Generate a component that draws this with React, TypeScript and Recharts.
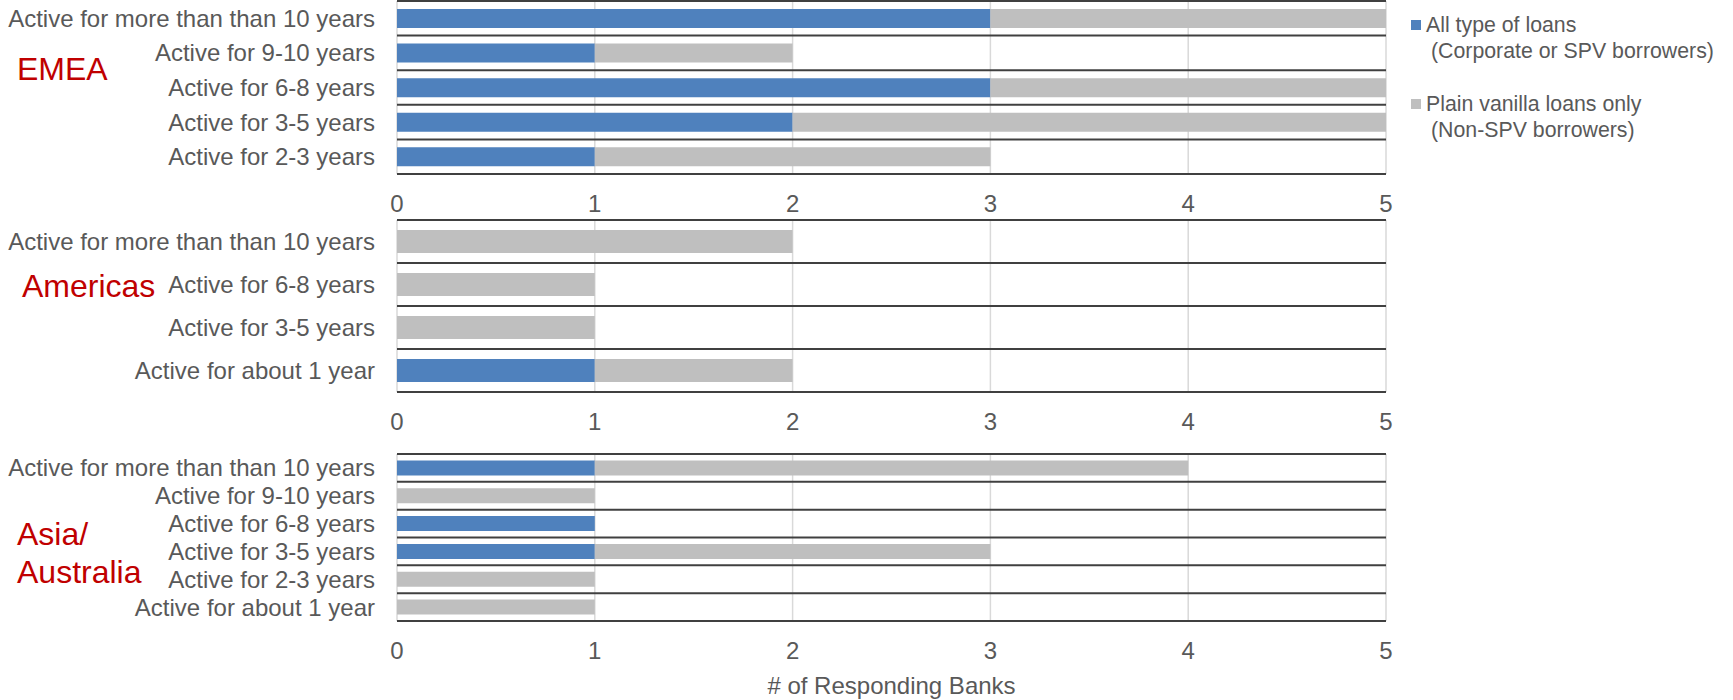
import { BarChart, Bar, XAxis, YAxis, CartesianGrid, Legend, Label } from "recharts";

const emeaCategories = [
  "Active for more than than 10 years",
  "Active for 9-10 years",
  "Active for 6-8 years",
  "Active for 3-5 years",
  "Active for 2-3 years",
];
const emeaAllLoans = [3, 1, 3, 2, 1];
const emeaPlainVanilla = [2, 1, 2, 3, 2];

const americasCategories = [
  "Active for more than than 10 years",
  "Active for 6-8 years",
  "Active for 3-5 years",
  "Active for about 1 year",
];
const americasAllLoans = [0, 0, 0, 1];
const americasPlainVanilla = [2, 1, 1, 1];

const asiaCategories = [
  "Active for more than than 10 years",
  "Active for 9-10 years",
  "Active for 6-8 years",
  "Active for 3-5 years",
  "Active for 2-3 years",
  "Active for about 1 year",
];
const asiaAllLoans = [1, 0, 1, 1, 0, 0];
const asiaPlainVanilla = [3, 1, 0, 2, 1, 1];

const xTicks = [0, 1, 2, 3, 4, 5];
const seriesNames = ["All type of loans", "Plain vanilla loans only"];
const seriesNotes = ["(Corporate or SPV borrowers)", "(Non-SPV borrowers)"];
const axisTitle = "# of Responding Banks";

const BLUE = "#4F81BD";
const GREY = "#BFBFBF";
const TEXT = "#595959";
const RED = "#C00000";

const renderLegend = (props: any) => {
  const payload = props.payload || [];
  return (
    <div style={{ color: TEXT, fontSize: 21.3, lineHeight: "26px", whiteSpace: "nowrap" }}>
      {payload.map((entry: any, i: number) => (
        <div
          key={i}
          style={{ position: "relative", paddingLeft: 15, marginBottom: i < payload.length - 1 ? 27 : 0 }}
        >
          <span
            style={{
              position: "absolute",
              left: 0,
              top: 8.5,
              width: 10,
              height: 10,
              background: entry.color,
            }}
          />
          <div>{entry.value}</div>
          <div style={{ paddingLeft: 5 }}>{seriesNotes[i]}</div>
        </div>
      ))}
    </div>
  );
};

interface PanelProps {
  categories: string[];
  allLoans: number[];
  plainVanilla: number[];
  top: number;
  plotHeight: number;
  axisHeight: number;
  showLegend?: boolean;
  showTitle?: boolean;
}

function RegionPanel({
  categories,
  allLoans,
  plainVanilla,
  top,
  plotHeight,
  axisHeight,
  showLegend,
  showTitle,
}: PanelProps) {
  const data = categories.map((c, i) => ({ category: c, all: allLoans[i], plain: plainVanilla[i] }));
  const n = data.length;

  return (
    <div style={{ position: "absolute", left: 0, top }}>
      <BarChart
        width={1733}
        height={1 + plotHeight + axisHeight}
        layout="vertical"
        data={data}
        margin={{ top: 1, right: 347, bottom: 0, left: 0 }}
        barCategoryGap="23%"
      >
        <CartesianGrid horizontal={false} stroke="#D9D9D9" strokeWidth={1.5} />
        <CartesianGrid
          vertical={false}
          stroke="#404040"
          strokeWidth={2}
          horizontalCoordinatesGenerator={({ offset }: any) =>
            Array.from({ length: n + 1 }, (_, i) => offset.top + (i * offset.height) / n)
          }
        />
        <XAxis
          type="number"
          domain={[0, 5]}
          ticks={xTicks}
          interval={0}
          axisLine={false}
          tickLine={false}
          tickSize={0}
          tickMargin={21}
          height={axisHeight}
          tick={{ fill: TEXT, fontSize: 24 }}
        >
          {showTitle && (
            <Label value={axisTitle} position="insideBottom" offset={6} fill={TEXT} fontSize={24} />
          )}
        </XAxis>
        <YAxis
          type="category"
          dataKey="category"
          width={397}
          axisLine={false}
          tickLine={false}
          tickSize={0}
          tickMargin={22}
          interval={0}
          tick={{ fill: TEXT, fontSize: 24 }}
        />
        <Bar dataKey="all" stackId="a" fill={BLUE} name={seriesNames[0]} isAnimationActive={false} />
        <Bar dataKey="plain" stackId="a" fill={GREY} name={seriesNames[1]} isAnimationActive={false} />
        {showLegend && (
          <Legend
            layout="vertical"
            align="center"
            verticalAlign="middle"
            content={renderLegend}
            wrapperStyle={{ left: 1411, top: 11.5, width: 322 }}
          />
        )}
      </BarChart>
    </div>
  );
}

export default function App() {
  return (
    <div
      style={{
        position: "relative",
        width: 1733,
        height: 700,
        background: "#ffffff",
        fontFamily: '"Liberation Sans", Arial, sans-serif',
        overflow: "hidden",
      }}
    >
      <style>{`body{margin:0}`}</style>
      <RegionPanel
        categories={emeaCategories}
        allLoans={emeaAllLoans}
        plainVanilla={emeaPlainVanilla}
        top={0}
        plotHeight={173}
        axisHeight={46}
        showLegend
      />
      <RegionPanel
        categories={americasCategories}
        allLoans={americasAllLoans}
        plainVanilla={americasPlainVanilla}
        top={219}
        plotHeight={172}
        axisHeight={46}
      />
      <RegionPanel
        categories={asiaCategories}
        allLoans={asiaAllLoans}
        plainVanilla={asiaPlainVanilla}
        top={453}
        plotHeight={167}
        axisHeight={79}
        showTitle
      />
      <svg
        width={300}
        height={700}
        style={{ position: "absolute", left: 0, top: 0, pointerEvents: "none" }}
      >
        <text x={17} y={80} fill={RED} fontSize={32}>EMEA</text>
        <text x={22} y={297} fill={RED} fontSize={32}>Americas</text>
        <text x={17} y={545} fill={RED} fontSize={32}>Asia/</text>
        <text x={17} y={583} fill={RED} fontSize={32}>Australia</text>
      </svg>
    </div>
  );
}
